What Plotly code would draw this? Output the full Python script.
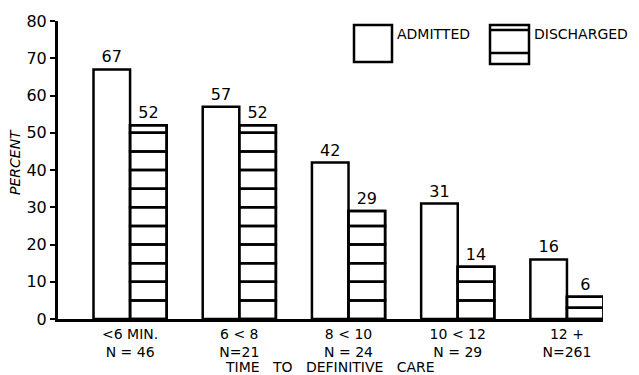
import plotly.graph_objects as go

categories = ["<6", "6<8", "8<10", "10<12", "12+"]
tick_labels = ["<6 MIN.<br>N = 46", "6 < 8<br>N=21", "8 < 10<br>N = 24",
               "10 < 12<br>N = 29", "12 +<br>N=261"]
admitted = [67, 57, 42, 31, 16]
discharged = [52, 52, 29, 14, 6]
hatch_step = [5, 5, 5, 5, 3]
y_ticks = [0, 10, 20, 30, 40, 50, 60, 70, 80]

FONT = "DejaVu Sans"
BW = 0.335
LW = 2.5

fig = go.Figure()

# Admitted bars (white)
fig.add_trace(go.Bar(
    x=categories, y=admitted, width=BW, offset=-BW,
    marker=dict(color="white", line=dict(color="black", width=LW)),
    text=[str(v) for v in admitted], textposition="outside",
    textfont=dict(family=FONT, size=16, color="black"),
    cliponaxis=False, showlegend=False, name="ADMITTED"))

# Discharged bars (outline + value)
fig.add_trace(go.Bar(
    x=categories, y=discharged, width=BW, offset=0,
    marker=dict(color="white", line=dict(color="black", width=LW)),
    text=[str(v) for v in discharged], textposition="outside",
    textfont=dict(family=FONT, size=16, color="black"),
    cliponaxis=False, showlegend=False, name="DISCHARGED"))

# Horizontal hatching for discharged bars, built as stacked segments
max_k = max(int(v // s) + 1 for v, s in zip(discharged, hatch_step))
for k in range(max_k):
    xs, bases, hs = [], [], []
    for c, v, s in zip(categories, discharged, hatch_step):
        b = k * s
        if b < v:
            xs.append(c)
            bases.append(b)
            hs.append(min(s, v - b))
    if xs:
        fig.add_trace(go.Bar(
            x=xs, y=hs, base=bases, width=BW, offset=0,
            marker=dict(color="rgba(0,0,0,0)", line=dict(color="black", width=LW)),
            showlegend=False, hoverinfo="skip"))

# Legend drawn manually
def px2paper_x(px):
    return (px - 58) / 545.0

def px2paper_y(py):
    return (319 - py) / 298.0

shapes = [
    dict(type="rect", xref="paper", yref="paper",
         x0=px2paper_x(354), x1=px2paper_x(392), y0=px2paper_y(62), y1=px2paper_y(25),
         line=dict(color="black", width=LW), fillcolor="white"),
    dict(type="rect", xref="paper", yref="paper",
         x0=px2paper_x(490), x1=px2paper_x(529), y0=px2paper_y(64), y1=px2paper_y(25),
         line=dict(color="black", width=LW), fillcolor="white"),
    dict(type="line", xref="paper", yref="paper",
         x0=px2paper_x(490), x1=px2paper_x(529), y0=px2paper_y(30), y1=px2paper_y(30),
         line=dict(color="black", width=LW)),
    dict(type="line", xref="paper", yref="paper",
         x0=px2paper_x(490), x1=px2paper_x(529), y0=px2paper_y(53), y1=px2paper_y(53),
         line=dict(color="black", width=LW)),
]

annotations = [
    dict(text="ADMITTED", xref="paper", yref="paper",
         x=px2paper_x(395), y=px2paper_y(34), xanchor="left", yanchor="middle",
         showarrow=False, font=dict(family=FONT, size=14, color="black")),
    dict(text="DISCHARGED", xref="paper", yref="paper",
         x=px2paper_x(532), y=px2paper_y(34), xanchor="left", yanchor="middle",
         showarrow=False, font=dict(family=FONT, size=14, color="black")),
    dict(text="<i>PERCENT</i>", xref="paper", yref="paper",
         x=px2paper_x(15), y=px2paper_y(162), xanchor="center", yanchor="middle",
         textangle=-90, showarrow=False, font=dict(family=FONT, size=14, color="black")),
    dict(text="TIME   TO   DEFINITIVE   CARE", xref="paper", yref="paper",
         x=px2paper_x(330), y=px2paper_y(358), xanchor="center", yanchor="top",
         borderpad=0, showarrow=False, font=dict(family=FONT, size=14, color="black")),
]

fig.update_layout(
    width=639, height=375,
    margin=dict(l=58, r=36, t=21, b=56, autoexpand=False),
    paper_bgcolor="white", plot_bgcolor="white",
    barmode="overlay",
    font=dict(family=FONT, size=15, color="black"),
    shapes=shapes, annotations=annotations,
    xaxis=dict(
        type="category", categoryorder="array", categoryarray=categories,
        range=[-0.66, 4.33], tickvals=categories, ticktext=tick_labels,
        showline=True, linecolor="black", linewidth=3, ticks="",
        showgrid=False, zeroline=False, fixedrange=True, automargin=False,
        tickfont=dict(family=FONT, size=14, color="black")),
    yaxis=dict(
        range=[0, 80], tickvals=y_ticks, ticktext=[str(t) for t in y_ticks],
        showline=True, linecolor="black", linewidth=3,
        ticks="outside", ticklen=5, tickwidth=2, tickcolor="black",
        showgrid=False, zeroline=False, fixedrange=True, automargin=False,
        tickfont=dict(family=FONT, size=16, color="black")),
)

fig.write_html("out.html", config={"displayModeBar": False},
               post_script="document.body.style.margin='0px';document.body.style.overflow='hidden';")
